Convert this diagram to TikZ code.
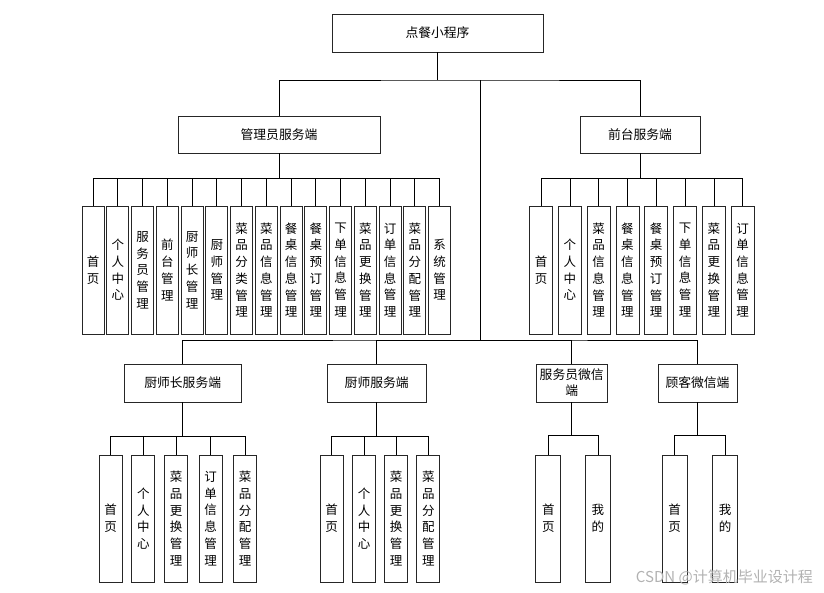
\documentclass[tikz,border=0pt]{standalone}
\usepackage{fontspec}
\newfontfamily\cjk{Noto Sans CJK SC}
\begin{document}
\begin{tikzpicture}[x=1pt,y=-1pt,
  hbox/.style={draw=black!85,line width=0.7pt,inner sep=1pt,align=center,font=\cjk\fontsize{12.8}{16}\selectfont},
  vbox/.style={draw=black!85,line width=0.7pt,inner sep=0pt,align=center,minimum height=128pt,font=\cjk\fontsize{12.5}{16.7}\selectfont},
  link/.style={draw=black,line width=0.6pt}]
\useasboundingbox (0,0) rectangle (824,592);
% level 0/1
\node[hbox,minimum width=211pt,minimum height=38pt] (root) at (437.5,33) {点餐小程序};
\node[hbox,minimum width=202pt,minimum height=37pt] (adm) at (279,134.5) {管理员服务端};
\node[hbox,minimum width=120pt,minimum height=37pt] (front) at (640,134.5) {前台服务端};
\node[hbox,minimum width=117pt,minimum height=38pt] (chefA) at (182.7,383) {厨师长服务端};
\node[hbox,minimum width=99pt,minimum height=38pt] (chefB) at (376.7,383) {厨师服务端};
\node[hbox,minimum width=71pt,minimum height=38pt,inner sep=0pt] (waiter) at (571.7,383) {服务员微信\\端};
\node[hbox,minimum width=79pt,minimum height=38pt] (cust) at (697.5,383) {顾客微信端};
\coordinate (j1) at (480,80);
\coordinate (hub) at (480,340);
\draw[link] (root.south) -- (root.south |- j1);
\draw[link] (adm.north) |- (j1) -| (front.north);
\draw[link] (j1) -- (hub);
\draw[link] (chefA.north) |- (hub) -| (cust.north);
\draw[link] (hub) -| (chefB.north);
\draw[link] (hub) -| (waiter.north);
% admin children
\foreach \i/\t in {0/首\\页,1/个\\人\\中\\心,2/服\\务\\员\\管\\理,3/前\\台\\管\\理,4/厨\\师\\长\\管\\理,5/厨\\师\\管\\理,6/菜\\品\\分\\类\\管\\理,7/菜\\品\\信\\息\\管\\理,8/餐\\桌\\信\\息\\管\\理,9/餐\\桌\\预\\订\\管\\理,10/下\\单\\信\\息\\管\\理,11/菜\\品\\更\\换\\管\\理,12/订\\单\\信\\息\\管\\理,13/菜\\品\\分\\配\\管\\理,14/系\\统\\管\\理}{
  \node[vbox,minimum width=22pt] (a\i) at (93+24.75*\i,270) {\t};
  \draw[link] (adm.south) -- (adm.south |- 0,178) -| (a\i.north);
}
% front children
\foreach \i/\t in {0/首\\页,1/个\\人\\中\\心,2/菜\\品\\信\\息\\管\\理,3/餐\\桌\\信\\息\\管\\理,4/餐\\桌\\预\\订\\管\\理,5/下\\单\\信\\息\\管\\理,6/菜\\品\\更\\换\\管\\理,7/订\\单\\信\\息\\管\\理}{
  \node[vbox,minimum width=23pt] (f\i) at (541+28.8*\i,270) {\t};
  \draw[link] (front.south) -- (front.south |- 0,178) -| (f\i.north);
}
% chef-head children
\foreach \i/\x/\t in {0/110.7/首\\页,1/143.3/个\\人\\中\\心,2/176/菜\\品\\更\\换\\管\\理,3/210.7/订\\单\\信\\息\\管\\理,4/245/菜\\品\\分\\配\\管\\理}{
  \node[vbox,minimum width=23pt,minimum height=127pt] (c\i) at (\x,518.5) {\t};
  \draw[link] (chefA.south) -- (chefA.south |- 0,436) -| (c\i.north);
}
% chef children
\foreach \i/\x/\t in {0/331.7/首\\页,1/364/个\\人\\中\\心,2/396/菜\\品\\更\\换\\管\\理,3/428.3/菜\\品\\分\\配\\管\\理}{
  \node[vbox,minimum width=23pt,minimum height=127pt] (d\i) at (\x,518.5) {\t};
  \draw[link] (chefB.south) -- (chefB.south |- 0,436) -| (d\i.north);
}
% waiter children
\foreach \i/\x/\t in {0/548.3/首\\页,1/597.8/我\\的}{
  \node[vbox,minimum width=25pt,minimum height=127pt] (w\i) at (\x,518.5) {\t};
  \draw[link] (waiter.south) -- (waiter.south |- 0,435) -| (w\i.north);
}
% customer children
\foreach \i/\x/\t in {0/674.5/首\\页,1/725/我\\的}{
  \node[vbox,minimum width=25pt,minimum height=127pt] (k\i) at (\x,518.5) {\t};
  \draw[link] (cust.south) -- (cust.south |- 0,435) -| (k\i.north);
}
\node[font=\cjk\fontsize{15}{17}\selectfont,text=black!30,anchor=east,inner sep=0pt] (wm) at (813,577) {CSDN @计算机毕业设计程};
\end{tikzpicture}
\end{document}
